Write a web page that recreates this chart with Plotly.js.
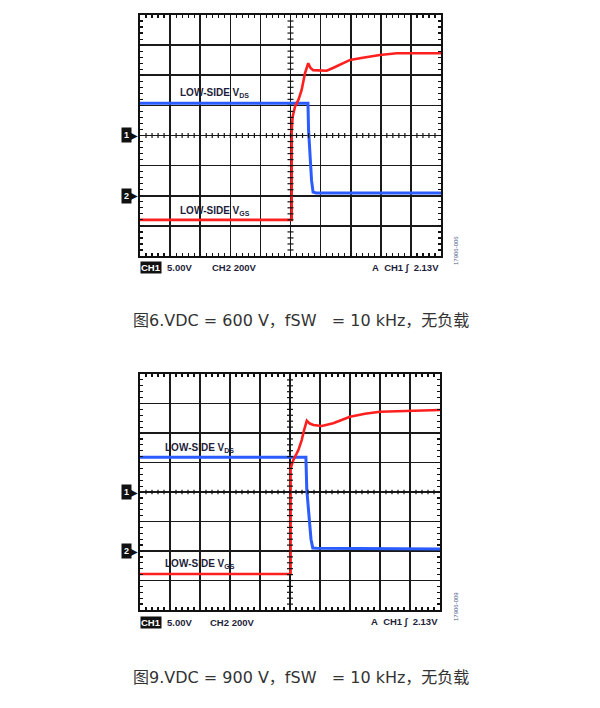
<!DOCTYPE html>
<html>
<head>
<meta charset="utf-8">
<script src="https://cdn.plot.ly/plotly-3.0.1.min.js"></script>
<style>html,body{margin:0;padding:0;background:#fff;}#chart{width:600px;height:708px;}</style>
</head>
<body>
<div id="chart"></div>
<script>
// ---- Data (oscilloscope divisions: x 0..10, y 0..8) ----
// Figure 6: VDC = 600 V
const fig6_vds_t = [0, 5.58, 5.60, 5.65, 5.70, 5.75, 5.85, 10];
const fig6_vds_v = [5.07, 5.07, 4.18, 3.19, 2.5, 2.12, 2.09, 2.09];
const fig6_vgs_t = [0, 5.04, 5.04, 5.07, 5.15, 5.27, 5.37, 5.48, 5.59, 5.66, 5.75, 5.95, 6.2, 6.41, 6.7, 6.98, 7.4, 7.97, 8.53, 9.2, 10];
const fig6_vgs_v = [1.2, 1.2, 4.18, 4.62, 4.96, 5.2, 5.51, 6.06, 6.40, 6.25, 6.17, 6.16, 6.15, 6.24, 6.38, 6.51, 6.58, 6.67, 6.73, 6.74, 6.73];
// Figure 9: VDC = 900 V
const fig9_vds_t = [0, 5.53, 5.56, 5.64, 5.70, 5.76, 5.9, 10];
const fig9_vds_v = [5.18, 5.18, 4.07, 2.95, 2.4, 2.1, 2.09, 2.07];
const fig9_vgs_t = [0, 5.02, 5.02, 5.11, 5.28, 5.39, 5.47, 5.56, 5.66, 5.78, 6.06, 6.44, 7.0, 7.5, 8.0, 9.0, 10];
const fig9_vgs_v = [1.22, 1.22, 4.8, 5.08, 5.42, 5.76, 6.10, 6.42, 6.32, 6.27, 6.24, 6.33, 6.55, 6.65, 6.72, 6.76, 6.78];

const labelVds = "LOW-SIDE V<sub>DS</sub>";
const labelVgs = "LOW-SIDE V<sub>GS</sub>";
const scaleCh1 = "5.00V";
const scaleCh2 = "CH2 200V";
const trigText = "A\u00a0\u00a0CH1\u00a0∫\u00a0\u00a02.13V";
const caption6 = "图6.VDC = 600 V，fSW\u00a0\u00a0\u00a0= 10 kHz，无负载";
const caption9 = "图9.VDC = 900 V，fSW\u00a0\u00a0\u00a0= 10 kHz，无负载";
const sideCode6 = "17906-006";
const sideCode9 = "17906-009";

// ---- Layout helpers ----
const W = 600, H = 708;
const px = v => v / W;
const py = v => 1 - v / H;
const RED = '#ff1f1f', BLUE = '#2a5cff', INK = '#1e1e3a';

function axis(domain, range, anchor) {
  return {
    domain: domain, range: range, anchor: anchor, dtick: 1, tick0: 0,
    showgrid: true, gridcolor: '#1a1a1a', gridwidth: 1.6,
    showline: true, mirror: 'allticks', linecolor: '#111', linewidth: 2,
    ticks: 'inside', ticklen: 3, tickcolor: '#111', tickwidth: 1,
    showticklabels: false, zeroline: false, fixedrange: true,
    minor: {dtick: 0.2, ticks: 'inside', ticklen: 3, tickcolor: '#111', tickwidth: 1.2, showgrid: false}
  };
}

const traces = [
  {x: fig6_vds_t, y: fig6_vds_v, xaxis: 'x', yaxis: 'y', mode: 'lines', line: {color: BLUE, width: 3}, hoverinfo: 'skip'},
  {x: fig6_vgs_t, y: fig6_vgs_v, xaxis: 'x', yaxis: 'y', mode: 'lines', line: {color: RED, width: 2.6}, hoverinfo: 'skip'},
  {x: fig9_vds_t, y: fig9_vds_v, xaxis: 'x2', yaxis: 'y2', mode: 'lines', line: {color: BLUE, width: 3}, hoverinfo: 'skip'},
  {x: fig9_vgs_t, y: fig9_vgs_v, xaxis: 'x2', yaxis: 'y2', mode: 'lines', line: {color: RED, width: 2.6}, hoverinfo: 'skip'}
];

// center-cross minor ticks
const shapes = [];
[['x', 'y'], ['x2', 'y2']].forEach(([xr, yr]) => {
  for (let i = 1; i < 50; i++) {
    const v = i * 0.2;
    shapes.push({type: 'line', xref: xr, yref: yr, x0: v, x1: v, y0: 3.92, y1: 4.08, line: {color: '#111', width: 1.2}});
  }
  for (let j = 1; j < 40; j++) {
    const v = j * 0.2;
    shapes.push({type: 'line', xref: xr, yref: yr, x0: 4.9, x1: 5.1, y0: v, y1: v, line: {color: '#111', width: 1.2}});
  }
});

const annotations = [];
function txt(o) { annotations.push(Object.assign({showarrow: false}, o)); }

function panel(xr, yr, lblVdsX, lblVdsY, lblVgsY, bottomY, rightX, ch2X, sideY, sideCode) {
  txt({xref: xr, yref: yr, x: lblVdsX, y: lblVdsY, xanchor: 'left', yanchor: 'middle', text: '<b>' + labelVds + '</b>', font: {family: 'Liberation Sans, Arial', size: 10, color: INK}});
  txt({xref: xr, yref: yr, x: lblVdsX, y: lblVgsY, xanchor: 'left', yanchor: 'middle', text: '<b>' + labelVgs + '</b>', font: {family: 'Liberation Sans, Arial', size: 10, color: INK}});
  // channel markers
  [['1', 4], ['2', 2]].forEach(([n, lv]) => {
    txt({xref: 'paper', yref: yr, x: px(121), y: lv, xanchor: 'left', yanchor: 'middle', text: '<b>' + n + '</b>', bgcolor: '#111', borderpad: 2, font: {family: 'Liberation Sans, Arial', size: 9, color: '#fff'}});
    txt({xref: 'paper', yref: yr, x: px(140), y: lv, xanchor: 'right', yanchor: 'middle', text: '▶', font: {family: 'DejaVu Sans', size: 10, color: '#111'}});
  });
  // bottom status line
  txt({xref: 'paper', yref: 'paper', x: px(140), y: py(bottomY), xanchor: 'left', yanchor: 'middle', text: '<b>CH1</b>', bgcolor: '#111', borderpad: 0, font: {family: 'Liberation Sans, Arial', size: 9.5, color: '#fff'}});
  txt({xref: 'paper', yref: 'paper', x: px(165), y: py(bottomY), xanchor: 'left', yanchor: 'middle', text: '<b>' + scaleCh1 + '</b>', font: {family: 'Liberation Sans, Arial', size: 9.5, color: INK}});
  txt({xref: 'paper', yref: 'paper', x: px(ch2X), y: py(bottomY), xanchor: 'left', yanchor: 'middle', text: '<b>' + scaleCh2 + '</b>', font: {family: 'Liberation Sans, Arial', size: 9.5, color: INK}});
  txt({xref: 'paper', yref: 'paper', x: px(rightX), y: py(bottomY), xanchor: 'right', yanchor: 'middle', text: '<b>' + trigText + '</b>', font: {family: 'Liberation Sans, Arial', size: 9.5, color: INK}});
  txt({xref: 'paper', yref: 'paper', x: px(456), y: py(sideY), xanchor: 'center', yanchor: 'middle', textangle: -90, text: sideCode, font: {family: 'Liberation Sans, Arial', size: 6, color: '#4a5a8a'}});
}

panel('x', 'y', 1.27, 5.42, 1.50, 268, 441, 210, 251, sideCode6);
panel('x2', 'y2', 0.76, 5.48, 1.56, 622, 440, 208, 607, sideCode9);

txt({xref: 'paper', yref: 'paper', x: px(131), y: py(320), xanchor: 'left', yanchor: 'middle', text: caption6, font: {family: 'DejaVu Sans, Noto Sans CJK SC', size: 16, color: '#333'}});
txt({xref: 'paper', yref: 'paper', x: px(131), y: py(677), xanchor: 'left', yanchor: 'middle', text: caption9, font: {family: 'DejaVu Sans, Noto Sans CJK SC', size: 16, color: '#333'}});

const layout = {
  width: W, height: H, margin: {l: 0, r: 0, t: 0, b: 0},
  paper_bgcolor: '#fff', plot_bgcolor: '#fff', showlegend: false,
  xaxis: axis([px(140), px(441)], [0, 10], 'y'),
  yaxis: axis([py(256), py(15)], [0, 8], 'x'),
  xaxis2: axis([px(140), px(440)], [0, 10], 'y2'),
  yaxis2: axis([py(610), py(374)], [0, 8], 'x2'),
  shapes: shapes, annotations: annotations
};

Plotly.newPlot('chart', traces, layout, {staticPlot: true, displayModeBar: false});
</script>
</body>
</html>
